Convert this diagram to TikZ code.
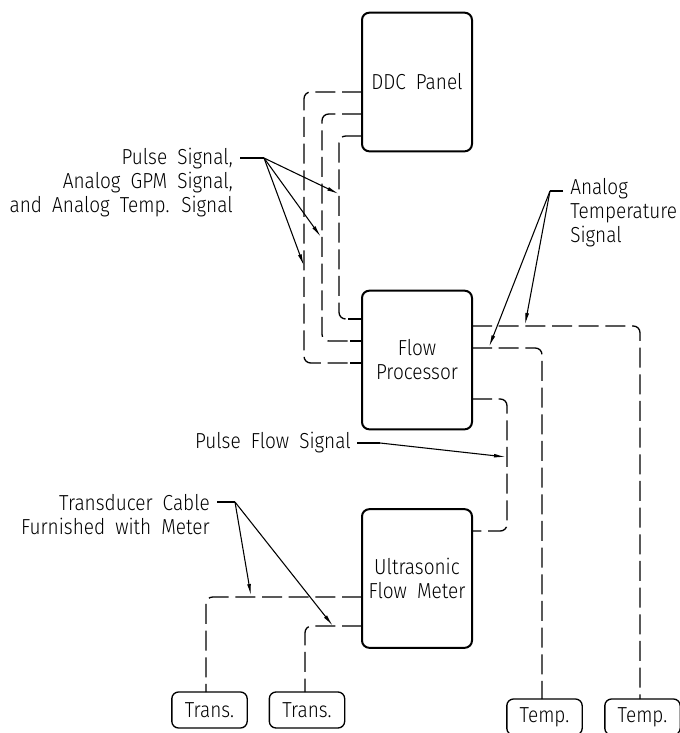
\documentclass[tikz,border=0pt]{standalone}
\usepackage{fontspec}
\setmainfont{Fira Sans Light}[WordSpace=1.9,FakeStretch=0.875]
\usetikzlibrary{arrows.meta}
\tikzset{
  x=0.75pt,y=-0.75pt,
  txt/.style={font=\fontsize{16.3pt}{18pt}\selectfont,inner sep=0pt,text=black},
  bigbox/.style={draw,line width=1.5pt,rounded corners=5.5pt,outer sep=0pt,inner sep=0pt,minimum width=82.5pt,minimum height=104pt,align=center,txt},
  smallbox/.style={draw,line width=1pt,rounded corners=5pt,outer sep=0pt,inner sep=0pt,minimum width=56.5pt,minimum height=27pt,txt},
  cable/.style={line width=1pt,rounded corners=5pt,dash pattern=on 15pt off 5pt},
  stub/.style={line width=1pt},
  leader/.style={line width=0.9pt},
  pointer/.style={line width=0.8pt,-{Latex[length=9pt,width=2.8pt]}},
}
\begin{document}
\begin{tikzpicture}
\useasboundingbox (0,0) rectangle (680,733);
% main boxes
\node[bigbox] (ddc) at (417,82) {DDC Panel};
\node[bigbox] (fp) at (417,360) {Flow\\Processor};
\node[bigbox] (um) at (417,578.5) {Ultrasonic\\Flow Meter};
% end devices
\node[smallbox] (tr1) at (209.5,710) {Trans.};
\node[smallbox] (tr2) at (307,710) {Trans.};
\node[smallbox] (te1) at (544.5,717) {Temp.};
\node[smallbox] (te2) at (642.5,717) {Temp.};
% cables
\draw[cable] (ddc.west |- 0,92) -- (304,92) -- (304,363) -- (fp.west |- 0,363);
\draw[cable] (ddc.west |- 0,114) -- (322,114) -- (322,341) -- (fp.west |- 0,341);
\draw[cable] (ddc.west |- 0,136) -- (339,136) -- (339,319) -- (fp.west |- 0,319);
\draw[stub] (fp.west |- 0,363) -- ++(-12,0);
\draw[stub] (fp.west |- 0,341) -- ++(-12,0);
\draw[stub] (fp.west |- 0,319) -- ++(-14,0);
\draw[cable] (fp.east |- 0,326) -- (640,326) -- (te2.north -| 640,0);
\draw[cable] (fp.east |- 0,348) -- (542,348) -- (te1.north -| 542,0);
\draw[cable] (fp.east |- 0,399) -- (507,399) -- (507,531) -- (um.east |- 0,531);
\draw[cable] (um.west |- 0,597) -- (206,597) -- (tr1.north -| 206,0);
\draw[cable] (um.west |- 0,626) -- (305,626) -- (tr2.north -| 305,0);
% labels
\node[txt,anchor=east,align=right] (lpulse) at (233,182.5) {Pulse Signal,\\Analog GPM Signal,\\and Analog Temp. Signal};
\node[txt,anchor=west,align=left] (ltemp) at (570,212.5) {Analog\\Temperature\\Signal};
\node[txt,anchor=east] (lflow) at (351,442.5) {Pulse Flow Signal};
\node[txt,anchor=east,align=right] (lcable) at (210,514.5) {Transducer Cable\\Furnished with Meter};
% leader lines
\coordinate (ps) at (240,158); \coordinate (pj) at (264,158);
\coordinate (pa) at (339,194); \coordinate (pb) at (321,237); \coordinate (pc) at (304,266);
\draw[leader] (ps) -- (pj);
\draw[pointer] (pj) -- (pa);
\draw[pointer] (pj) -- (pb);
\draw[pointer] (pj) -- (pc);
\coordinate (ts) at (563,191); \coordinate (tj) at (550,191);
\coordinate (ta) at (489,347); \coordinate (tb) at (525,325);
\draw[leader] (ts) -- (tj);
\draw[pointer] (tj) -- (ta);
\draw[pointer] (tj) -- (tb);
\coordinate (fs) at (357,443); \coordinate (fj) at (380,443); \coordinate (fa) at (506,457);
\draw[leader] (fs) -- (fj);
\draw[pointer] (fj) -- (fa);
\coordinate (cs) at (217,502); \coordinate (cj) at (235,502);
\coordinate (ca) at (251,596); \coordinate (cb) at (333,626);
\draw[leader] (cs) -- (cj);
\draw[pointer] (cj) -- (ca);
\draw[pointer] (cj) -- (cb);
\end{tikzpicture}
\end{document}
